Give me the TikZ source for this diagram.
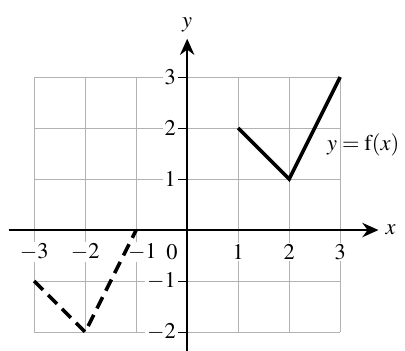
\documentclass[tikz,border=0pt]{standalone}
\usepackage{amsmath}
\usepackage{mathptmx}
\usepackage{tikz}
\usetikzlibrary{calc}
\usetikzlibrary{arrows,arrows.meta}

\begin{document}
\begin{tikzpicture}[font=\fontsize{12.5}{14}\selectfont]
\useasboundingbox (-3.67,-2.37) rectangle (4.27,4.51);
\draw[gray!60] (-3,-2) grid (3,3);
\draw[black,line width=1.2pt, -{Stealth[length=9pt,width=8pt]}] (-3.5,0)--(3.75,0) node[right] (xlab) {$x$};
\draw[black,line width=1.2pt, -{Stealth[length=9pt,width=8pt]}] (0,-2.37)--(0,3.75) node[above] (ylab) {$y$};
\foreach \x in {-3,-2,1,2,3} {
 \node[fill=white, inner sep=1] (x\x) at (\x,-0.43) {$\x$};
}
\node[fill=white, inner sep=1] (xm1) at (-0.88,-0.43) {$-1$};
\node[fill=white, inner sep=1] (x0) at (-0.3,-0.43) {$0$};
\foreach \y in {-2,-1,1,2,3} {
 \draw[black] (-0.18,\y) --(0,\y);
 \node[anchor=east, fill=white, inner sep=1] (y\y) at (-0.18,\y) {$\y$};
}
\draw[black,line width=2pt] (1,2)--(2,1)--(3,3);
\draw[black,line width=2pt,dash pattern=on 7pt off 4pt] (-3,-1)--(-2,-2)--(-1,0);
\node (flab) at (3.45,1.67) {$y = \mathrm{f}(x)$};
\end{tikzpicture}
\end{document}
